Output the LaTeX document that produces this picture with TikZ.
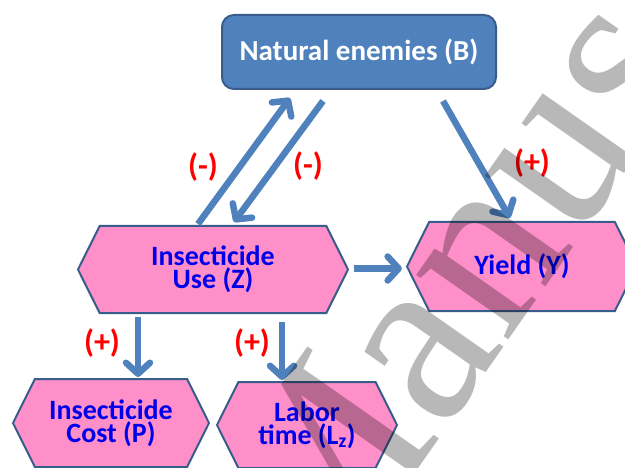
\documentclass[tikz,border=0pt]{standalone}
\usepackage{fontspec}
\setmainfont{Carlito}
\newfontfamily\wmfont{Liberation Serif}
\usetikzlibrary{arrows.meta,shapes.symbols}
\definecolor{boxblue}{RGB}{79,129,189}
\definecolor{boxedge}{RGB}{56,93,138}
\definecolor{hexpink}{RGB}{255,143,200}
\definecolor{txtblue}{RGB}{0,0,235}
\definecolor{lblred}{RGB}{255,0,0}
\definecolor{wmgray}{RGB}{184,184,184}
\begin{document}
\begin{tikzpicture}[x=1pt,y=1pt,
  natbox/.style={rectangle, rounded corners=12pt, fill=boxblue, draw=boxedge, line width=2pt,
    text=white, font=\bfseries\fontsize{29}{30}\selectfont, inner sep=0pt},
  hex/.style={shape=signal, signal to=west and east, signal pointer angle=127,
    draw=boxedge, line width=2pt, fill=hexpink, text=txtblue, align=center, inner sep=0pt,
    font=\bfseries\fontsize{28}{23}\selectfont},
  arr/.style={draw=boxblue, line width=6.5pt, -{Straight Barb[length=11pt,width=24pt,round]}},
  lbl/.style={text=lblred, font=\bfseries\fontsize{32}{34}\selectfont, inner sep=0pt},
  wm/.style={text=wmgray, font=\wmfont\fontsize{245}{245}\selectfont, inner sep=0pt}]
\fill[white] (0,0) rectangle (625,467);
\useasboundingbox (0,0) rectangle (625,467);
\begin{scope}
\clip (0,0) rectangle (625,467);
\node[natbox, minimum width=274pt, minimum height=74pt] (nat) at (359,415) {Natural enemies (B)};
\node[hex, minimum width=270pt, minimum height=87pt] (use) at (213,197.5) {Insecticide\\Use (Z)};
\node[hex, minimum width=230pt, minimum height=89pt] (yield) at (522,200.5) {Yield (Y)};
\node[hex, minimum width=196pt, minimum height=88pt] (cost) at (111,44) {Insecticide\\Cost (P)};
\node[hex, minimum width=180pt, minimum height=86pt] (labor) at (307,42) {Labor\\time (L\textsubscript{z})};

\draw[arr] ([xshift=-15pt,yshift=1pt]use.north) -- ([xshift=-69pt,yshift=-8pt]nat.south);
\draw[arr] ([xshift=-36pt,yshift=-11pt]nat.south) -- ([xshift=21pt,yshift=3pt]use.north);
\draw[arr] ([xshift=84pt,yshift=-11pt]nat.south) -- ([xshift=-12pt,yshift=3pt]yield.north);
\draw[arr] ([xshift=5pt,yshift=1pt]use.east) coordinate (a4) -- ([xshift=-4pt]a4 -| yield.west);
\draw[arr] ([xshift=-75pt,yshift=-3pt]use.south) coordinate (a5) -- ([yshift=1pt]a5 |- cost.north);
\draw[arr] ([xshift=69pt,yshift=-8pt]use.south) coordinate (a6) -- ([yshift=1pt]a6 |- labor.north);

\node[lbl] (m1) at (203,300) {(-)};
\node[lbl] (m2) at (308,301) {(-)};
\node[lbl] (p1) at (532,304) {(+)};
\node[lbl] (p2) at (102,124) {(+)};
\node[lbl] (p3) at (252,124) {(+)};

\begin{scope}[blend mode=multiply]
\node[wm, rotate=55, anchor=base west] (wmark) at (318,-145) {Manuscript};
\end{scope}
\end{scope}
\end{tikzpicture}
\end{document}
